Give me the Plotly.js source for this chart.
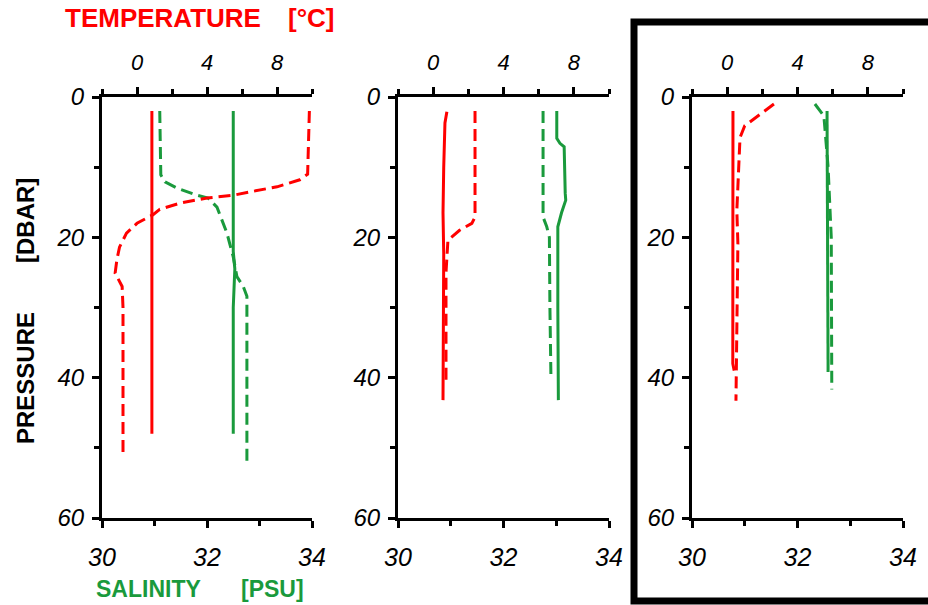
<!DOCTYPE html>
<html>
<head>
<meta charset="utf-8">
<script src="https://cdn.plot.ly/plotly-3.0.1.min.js"></script>
<style>html,body{margin:0;padding:0;background:#fff;}#chart{width:928px;height:605px;}</style>
</head>
<body>
<div id="chart"></div>
<script>
// ---------- DATA (pressure in dbar, temperature in °C, salinity in PSU) ----------
// Panel 1
const p1TempSolidP = [2, 10, 20, 30, 40, 48];
const p1TempSolidT = [0.85, 0.85, 0.85, 0.85, 0.85, 0.85];
const p1TempDashP = [2, 11, 11.8, 12.8, 13.5, 14, 14.4, 15.1, 16, 16.8, 18, 19.4, 21.4, 23.2, 25.1, 27, 30, 40, 51.3];
const p1TempDashT = [9.85, 9.75, 9.3, 8.0, 6.5, 5.5, 4.0, 2.5, 1.3, 0.9, 0.0, -0.6, -1.0, -1.15, -1.25, -0.85, -0.8, -0.8, -0.8];
const p1SalSolidP = [2, 22, 24.5, 26, 30, 48];
const p1SalSolidS = [32.5, 32.5, 32.53, 32.52, 32.5, 32.5];
const p1SalDashP = [2, 11.1, 12.1, 13, 14, 14.4, 15.7, 19.4, 22.8, 25.6, 27, 28.4, 40, 52.1];
const p1SalDashS = [31.1, 31.12, 31.2, 31.43, 31.81, 32.02, 32.19, 32.38, 32.5, 32.57, 32.69, 32.76, 32.76, 32.76];
// Panel 2
const p2TempSolidP = [2.1, 3.7, 10, 16.5, 22.3, 30, 43.2];
const p2TempSolidT = [0.78, 0.67, 0.6, 0.56, 0.6, 0.57, 0.56];
const p2TempDashP = [2, 17.1, 18, 19, 20.4, 25, 40.3];
const p2TempDashT = [2.38, 2.38, 2.2, 1.5, 0.84, 0.73, 0.73];
const p2SalSolidP = [2, 5.9, 6.6, 7.1, 13.7, 14.7, 16.5, 18.5, 30, 43.2];
const p2SalSolidS = [33.01, 33.01, 33.07, 33.15, 33.17, 33.18, 33.1, 33.03, 33.03, 33.04];
const p2SalDashP = [2, 17.1, 18.5, 20, 30, 40.3];
const p2SalDashS = [32.75, 32.75, 32.82, 32.87, 32.88, 32.9];
// Panel 3
const p3TempSolidP = [2, 10, 20, 30, 38, 39];
const p3TempSolidT = [0.33, 0.33, 0.3, 0.32, 0.32, 0.4];
const p3TempDashP = [1, 4.1, 5.8, 11.5, 16.2, 20.9, 30.4, 40, 43.3];
const p3TempDashT = [2.66, 1.0, 0.73, 0.61, 0.55, 0.61, 0.55, 0.5, 0.5];
const p3SalSolidP = [2, 20, 39.2];
const p3SalSolidS = [32.56, 32.57, 32.58];
const p3SalDashP = [1, 2, 2.7, 10, 20, 41.7];
const p3SalDashS = [32.33, 32.43, 32.5, 32.58, 32.64, 32.65];

// Axis ticks
const salRange = [30, 34];
const salTicks = [30, 32, 34];
const salMinor = [31, 33];
const tempRange = [-2, 10];
const tempTicks = [0, 4, 8];
const tempMinor = [-2, 2, 6, 10];
const presRange = [60, 0];
const presTicks = [0, 20, 40, 60];
const presMinor = [10, 30, 50];

// Text
const tempTitleA = 'TEMPERATURE', tempTitleB = '[°C]';
const salTitleA = 'SALINITY', salTitleB = '[PSU]';
const presTitleA = 'PRESSURE', presTitleB = '[DBAR]';

// ---------- STYLE ----------
const W = 928, H = 605;
const RED = '#ff0000', GREEN = '#1a9a3c';
const FONT = 'Liberation Sans, Arial, Helvetica, sans-serif';
const px = x => x / W;
const py = y => 1 - y / H;
const DASH = '12px,6px';
const LW = 3;

function line(x, y, xa, ya, color, dashed) {
  return {x: x, y: y, xaxis: xa, yaxis: ya, type: 'scatter', mode: 'lines',
    line: {color: color, width: LW, dash: dashed ? DASH : 'solid'}, hoverinfo: 'skip', showlegend: false};
}

const data = [
  line(p1SalSolidS, p1SalSolidP, 'x', 'y', GREEN, false),
  line(p1SalDashS, p1SalDashP, 'x', 'y', GREEN, true),
  line(p1TempSolidT, p1TempSolidP, 'x2', 'y', RED, false),
  line(p1TempDashT, p1TempDashP, 'x2', 'y', RED, true),
  line(p2SalSolidS, p2SalSolidP, 'x3', 'y2', GREEN, false),
  line(p2SalDashS, p2SalDashP, 'x3', 'y2', GREEN, true),
  line(p2TempSolidT, p2TempSolidP, 'x4', 'y2', RED, false),
  line(p2TempDashT, p2TempDashP, 'x4', 'y2', RED, true),
  line(p3SalSolidS, p3SalSolidP, 'x5', 'y3', GREEN, false),
  line(p3SalDashS, p3SalDashP, 'x5', 'y3', GREEN, true),
  line(p3TempSolidT, p3TempSolidP, 'x6', 'y3', RED, false),
  line(p3TempDashT, p3TempDashP, 'x6', 'y3', RED, true)
];

const yDomain = [py(518), py(97)];
const xDomains = [[px(102), px(312)], [px(398), px(609)], [px(692), px(903)]];

const common = {showline: true, linewidth: 3, linecolor: '#000', showgrid: false, zeroline: false,
  ticks: 'outside', ticklen: 7, tickwidth: 3, tickcolor: '#000', fixedrange: true, automargin: false};

function salAxis(i) {
  return Object.assign({}, common, {domain: xDomains[i], anchor: i === 0 ? 'y' : 'y' + (i + 1),
    range: salRange, tickmode: 'array', tickvals: salTicks, side: 'bottom',
    minor: {tickmode: 'array', tickvals: salMinor, ticks: 'outside', ticklen: 5, tickwidth: 3, tickcolor: '#000'},
    tickfont: {family: FONT, size: 25, style: 'italic', color: '#000'}, ticklabelstandoff: 8});
}
function tempAxis(i) {
  const base = i === 0 ? 'x' : 'x' + (2 * i + 1);
  return Object.assign({}, common, {overlaying: base, anchor: i === 0 ? 'y' : 'y' + (i + 1),
    side: 'top', range: tempRange, tickmode: 'array', tickvals: tempTicks,
    minor: {tickmode: 'array', tickvals: tempMinor, ticks: 'outside', ticklen: 5, tickwidth: 3, tickcolor: '#000'},
    tickfont: {family: FONT, size: 22, style: 'italic', color: '#000'}, ticklabelstandoff: 8});
}
function presAxis(i) {
  return Object.assign({}, common, {domain: yDomain, anchor: i === 0 ? 'x' : 'x' + (2 * i + 1),
    range: presRange, tickmode: 'array', tickvals: presTicks,
    minor: {tickmode: 'array', tickvals: presMinor, ticks: 'outside', ticklen: 5, tickwidth: 3, tickcolor: '#000'},
    tickfont: {family: FONT, size: 24, style: 'italic', color: '#000'}, ticklabelstandoff: 3});
}

function ann(text, x, y, color, size, angle) {
  return {text: text, xref: 'paper', yref: 'paper', x: px(x), y: py(y), xanchor: 'center', yanchor: 'middle',
    showarrow: false, textangle: angle || 0,
    font: {family: FONT, size: size, color: color, weight: 'bold'}};
}

const layout = {
  width: W, height: H, autosize: false,
  margin: {l: 0, r: 0, t: 0, b: 0, pad: 0},
  paper_bgcolor: '#fff', plot_bgcolor: 'rgba(0,0,0,0)',
  showlegend: false,
  xaxis: salAxis(0), xaxis2: tempAxis(0),
  xaxis3: salAxis(1), xaxis4: tempAxis(1),
  xaxis5: salAxis(2), xaxis6: tempAxis(2),
  yaxis: presAxis(0), yaxis2: presAxis(1), yaxis3: presAxis(2),
  annotations: [
    ann(tempTitleA, 163, 18, RED, 26),
    ann(tempTitleB, 311, 18, RED, 26),
    ann(salTitleA, 148, 589, GREEN, 23),
    ann(salTitleB, 272, 589, GREEN, 23),
    ann(presTitleA, 25, 378, '#000', 24, -90),
    ann(presTitleB, 25, 221, '#000', 24, -90)
  ],
  shapes: [
    {type: 'rect', xref: 'paper', yref: 'paper', x0: px(634), x1: px(945), y0: py(601), y1: py(22),
      line: {color: '#000', width: 7}, fillcolor: 'rgba(0,0,0,0)', layer: 'above'}
  ]
};

Plotly.newPlot('chart', data, layout, {staticPlot: true, displayModeBar: false});
</script>
</body>
</html>
